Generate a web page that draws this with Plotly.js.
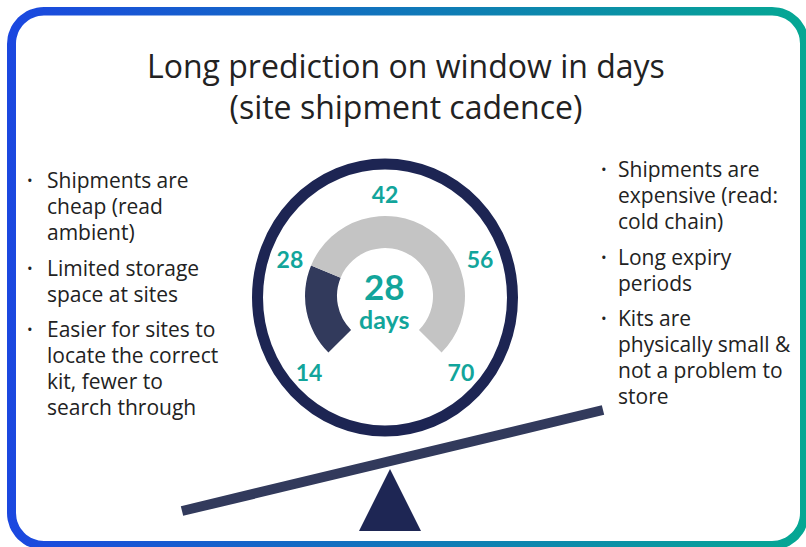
<!DOCTYPE html>
<html>
<head>
<meta charset="utf-8">
<script src="https://cdn.plot.ly/plotly-3.0.1.min.js"></script>
<style>html,body{margin:0;padding:0;background:#fff;}</style>
</head>
<body>
<div id="chart" style="width:806px;height:547px;"></div>
<script>
// ---------- data ----------
const titleLines = ['Long prediction on window in days', '(site shipment cadence)'];
const gaugeMin = 14;
const gaugeMax = 70;
const gaugeValue = 28;
const gaugeUnit = 'days';
const tickValues = [14, 28, 42, 56, 70];
const tickLabels = ['14', '28', '42', '56', '70'];
const leftBullets = [
  ['Shipments are', 'cheap (read', 'ambient)'],
  ['Limited storage', 'space at sites'],
  ['Easier for sites to', 'locate the correct', 'kit, fewer to', 'search through']
];
const rightBullets = [
  ['Shipments are', 'expensive (read:', 'cold chain)'],
  ['Long expiry', 'periods'],
  ['Kits are', 'physically small &', 'not a problem to', 'store']
];

// ---------- layout constants ----------
const W = 806, H = 547;
const SWEEP = 270;
const GC = {x: 385, y: 296};
const PR = 88;               // polar radius in px
const TEAL = '#12a59b';
const DARK = '#323a5c';
const NAVY = '#1d2553';
const GRAY = '#c4c4c4';
const TEXT = '#222222';

const deg = v => (v - gaugeMin) / (gaugeMax - gaugeMin) * SWEEP;

// rounded rectangle outline points (decoration)
function roundRect(x0, y0, x1, y1, r, n) {
  const xs = [], ys = [];
  const corners = [[x1 - r, y0 + r, -90, 0], [x1 - r, y1 - r, 0, 90], [x0 + r, y1 - r, 90, 180], [x0 + r, y0 + r, 180, 270]];
  corners.forEach(c => {
    for (let k = 0; k <= n; k++) {
      const a = (c[2] + (c[3] - c[2]) * k / n) * Math.PI / 180;
      xs.push(c[0] + r * Math.cos(a));
      ys.push(c[1] + r * Math.sin(a));
    }
  });
  xs.push(xs[0]); ys.push(ys[0]);
  return {xs, ys};
}
const outer = roundRect(7, 7, 809, 550, 37, 16);
const inner = roundRect(16, 15.5, 800, 541, 28, 16);
const bx = outer.xs.concat(inner.xs.slice().reverse(), [outer.xs[0]]);
const by = outer.ys.concat(inner.ys.slice().reverse(), [outer.ys[0]]);

const traces = [
  {
    type: 'scatter', x: bx, y: by, mode: 'lines', line: {width: 0},
    fill: 'toself',
    fillgradient: {type: 'horizontal', colorscale: [[0, '#1b47e0'], [1, '#05a893']]},
    hoverinfo: 'skip', showlegend: false
  },
  {
    type: 'barpolar',
    theta: [(deg(gaugeMin) + deg(gaugeValue)) / 2, (deg(gaugeValue) + deg(gaugeMax)) / 2],
    width: [deg(gaugeValue) - deg(gaugeMin), deg(gaugeMax) - deg(gaugeValue)],
    base: [48, 48],
    r: [32, 32],
    marker: {color: [DARK, GRAY], line: {width: 0}},
    hoverinfo: 'skip', showlegend: false
  }
];

const annotations = [];
// title: one text element (base size sets the line spacing)
annotations.push({
  text: titleLines.map(t => '<span style="font-size:32px">' + t + '</span>').join('<br>'),
  x: 406, y: 85.5, xref: 'x', yref: 'y', showarrow: false,
  xanchor: 'center', yanchor: 'middle',
  font: {family: 'Open Sans', size: 31.5, color: TEXT}
});
// bullets
function addBullets(list, bulletX, textX, startY) {
  let y = startY;
  list.forEach(lines => {
    lines.forEach((ln, j) => {
      if (j === 0) {
        annotations.push({
          text: '•', x: bulletX, y: y, xref: 'x', yref: 'y', showarrow: false,
          xanchor: 'center', yanchor: 'middle',
          font: {family: 'Open Sans', size: 15, color: TEXT}
        });
      }
      annotations.push({
        text: ln, x: textX, y: y, xref: 'x', yref: 'y', showarrow: false,
        xanchor: 'left', yanchor: 'middle',
        font: {family: 'Open Sans', size: 21, color: TEXT}
      });
      y += 26;
    });
    y += 9.5;
  });
}
addBullets(leftBullets, 30, 45, 180);
addBullets(rightBullets, 604, 616, 169);
// center value + unit as one text element
annotations.push({
  text: '<span style="font-size:35px">' + gaugeValue + '</span><br><span style="font-size:25px">' + gaugeUnit + '</span>',
  x: 384, y: 299, xref: 'x', yref: 'y', showarrow: false,
  xanchor: 'center', yanchor: 'middle',
  font: {family: 'Lato', size: 22, color: TEAL, weight: 'bold'}
});

const layout = {
  width: W, height: H,
  margin: {l: 0, r: 0, t: 0, b: 0, pad: 0},
  paper_bgcolor: '#ffffff', plot_bgcolor: 'rgba(0,0,0,0)',
  showlegend: false,
  xaxis: {range: [0, W], visible: false, fixedrange: true, domain: [0, 1]},
  yaxis: {range: [H, 0], visible: false, fixedrange: true, domain: [0, 1]},
  polar: {
    domain: {x: [(GC.x - PR) / W, (GC.x + PR) / W], y: [1 - (GC.y + PR) / H, 1 - (GC.y - PR) / H]},
    bgcolor: 'rgba(0,0,0,0)',
    hole: 0,
    radialaxis: {visible: false, range: [0, PR]},
    angularaxis: {
      rotation: 225, direction: 'clockwise',
      tickmode: 'array', tickvals: tickValues.map(deg), ticktext: tickLabels,
      showline: false, showgrid: false, ticks: '',
      tickfont: {family: 'Lato', size: 23, color: TEAL, weight: 'bold'}
    }
  },
  shapes: [
    {type: 'circle', xref: 'x', yref: 'y', x0: 257.5, x1: 512.5, y0: 164, y1: 431,
     line: {color: NAVY, width: 11}},
    {type: 'line', xref: 'x', yref: 'y', x0: 182, y0: 511, x1: 603, y1: 410,
     line: {color: DARK, width: 10}},
    {type: 'path', xref: 'x', yref: 'y', path: 'M 390 469 L 421 531 L 359 531 Z',
     fillcolor: '#1e2654', line: {width: 0}}
  ],
  annotations: annotations
};

Plotly.newPlot('chart', traces, layout, {staticPlot: true, displayModeBar: false});
</script>
</body>
</html>
